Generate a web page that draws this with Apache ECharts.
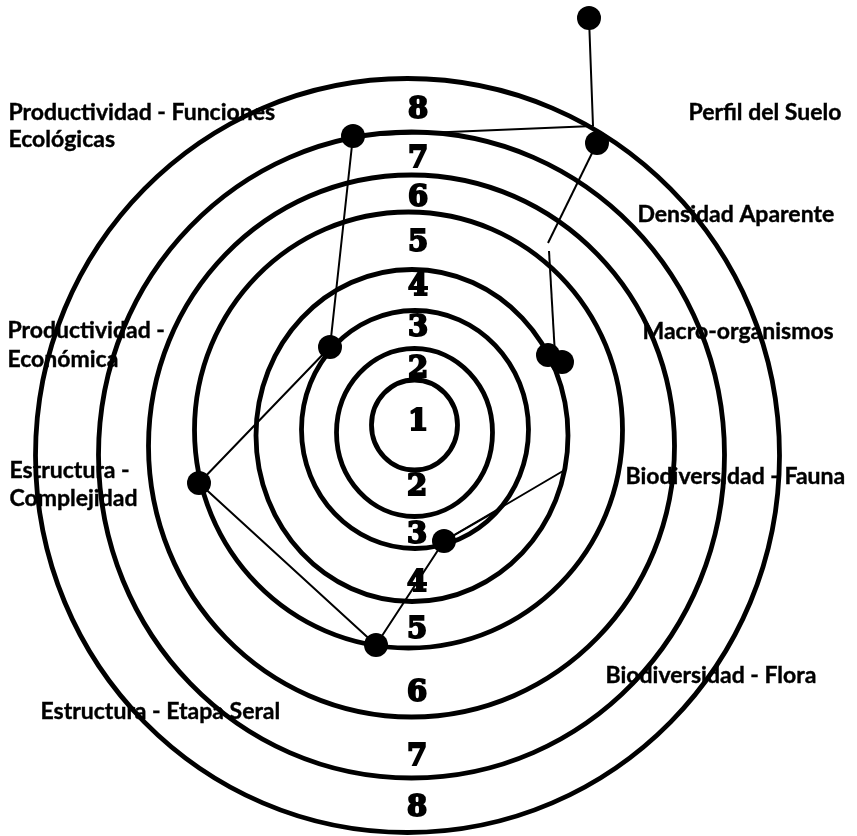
<!DOCTYPE html>
<html>
<head>
<meta charset="utf-8">
<script src="https://cdn.jsdelivr.net/npm/echarts@6/dist/echarts.min.js"></script>
<style>
html,body{margin:0;padding:0;background:#fff;}
#chart{width:857px;height:836px;}
</style>
</head>
<body>
<div id="chart"></div>
<script>
// ---- data (chart units = pixels of the drawing) ----
const ringLevels   = [1, 2, 3, 4, 5, 6, 7, 8];
const ringCenterX  = [414.5, 414.5, 415, 412, 408.5, 411.5, 411.5, 407.5];
const ringCenterY  = [425, 432.5, 429.5, 435.5, 430, 446, 455, 455.5];
const ringRadiusX  = [43, 78, 113.5, 156, 214, 263, 313, 372];
const ringRadiusY  = [45, 84, 119, 166, 218, 271, 323, 377];

const tickLabelsUp   = ['8', '7', '6', '5', '4', '3', '2', '1'];
const tickLabelsDown = ['2', '3', '4', '5', '6', '7', '8'];

const categoryNames = [
  'Productividad - Funciones\nEcológicas',
  'Perfil del Suelo',
  'Densidad Aparente',
  'Productividad -\nEconómica',
  'Macro-organismos',
  'Estructura -\nComplejidad',
  'Biodiversidad - Fauna',
  'Biodiversidad - Flora',
  'Estructura - Etapa Seral'
];

const pointX = [589, 597, 353, 330, 199, 376, 444, 548, 562];
const pointY = [18, 143, 136, 347, 483, 645, 541, 355, 362];

const mainPathX  = [589, 593, 353, 330, 199, 376, 444, 563];
const mainPathY  = [18, 126, 136, 347, 483, 645, 541, 471];
const spurPathX  = [444, 500];
const spurPathY  = [541, 509];
const soilPathX  = [597, 548];
const soilPathY  = [143, 243];
const macroPathX = [549, 555];
const macroPathY = [251, 355];

// ---- layout (where the texts sit) ----
const LAYOUT = {
  tickX: 418,
  tickUpY: [110, 159, 198, 243, 287, 328, 369, 422],
  tickDownY: [487, 535, 583, 630, 693, 757, 808],
  catX: [8, 688, 637, 7, 642, 9, 625, 605, 40],
  catY: [126, 113, 215, 345, 332, 485, 477, 676, 712],
  catLineHeight: [27, 22, 22, 29, 22, 28, 22, 22, 22]
};

const zip = (xs, ys) => xs.map((x, i) => [x, ys[i]]);

const ringData = ringLevels.map((lv, i) => [ringCenterX[i], ringCenterY[i], ringRadiusX[i], ringRadiusY[i], lv]);

const tickData = tickLabelsUp.map((t, i) => ({ value: [LAYOUT.tickX, LAYOUT.tickUpY[i]], name: t }))
  .concat(tickLabelsDown.map((t, i) => ({ value: [LAYOUT.tickX - 1, LAYOUT.tickDownY[i]], name: t })));

const catData = categoryNames.map((n, i) => ({
  value: [LAYOUT.catX[i], LAYOUT.catY[i]],
  name: n,
  label: { lineHeight: LAYOUT.catLineHeight[i] }
}));

function pathSeries(xs, ys) {
  return {
    type: 'line',
    data: zip(xs, ys),
    symbol: 'none',
    silent: true,
    z: 3,
    lineStyle: { color: '#000', width: 2, opacity: 1 }
  };
}

const chart = echarts.init(document.getElementById('chart'), null, { renderer: 'canvas' });
chart.setOption({
  animation: false,
  backgroundColor: '#fff',
  grid: { left: 0, right: 0, top: 0, bottom: 0 },
  xAxis: { type: 'value', min: 0, max: 857, show: false },
  yAxis: { type: 'value', min: 0, max: 836, inverse: true, show: false },
  series: [
    {
      type: 'custom',
      data: ringData,
      encode: { x: 0, y: 1 },
      clip: false,
      silent: true,
      z: 2,
      renderItem: function (params, api) {
        const c = api.coord([api.value(0), api.value(1)]);
        const s = api.size([api.value(2), api.value(3)]);
        return {
          type: 'ellipse',
          shape: { cx: c[0], cy: c[1], rx: Math.abs(s[0]), ry: Math.abs(s[1]) },
          style: { fill: 'none', stroke: '#000', lineWidth: 4.8 }
        };
      }
    },
    pathSeries(mainPathX, mainPathY),
    pathSeries(spurPathX, spurPathY),
    pathSeries(soilPathX, soilPathY),
    pathSeries(macroPathX, macroPathY),
    {
      type: 'scatter',
      data: zip(pointX, pointY),
      symbol: 'circle',
      symbolSize: 24,
      silent: true,
      z: 4,
      itemStyle: { color: '#000', opacity: 1 }
    },
    {
      type: 'scatter',
      data: tickData,
      symbolSize: 1,
      silent: true,
      z: 5,
      itemStyle: { color: 'transparent', opacity: 1 },
      label: {
        show: true,
        position: 'inside',
        formatter: '{b}',
        color: '#000',
        fontFamily: 'DejaVu Serif',
        fontWeight: 'bold',
        fontSize: 29,
        textBorderColor: '#000',
        textBorderWidth: 2
      }
    },
    {
      type: 'scatter',
      data: catData,
      symbolSize: 1,
      silent: true,
      z: 5,
      itemStyle: { color: 'transparent', opacity: 1 },
      label: {
        show: true,
        position: 'right',
        distance: 0,
        align: 'left',
        verticalAlign: 'middle',
        formatter: '{b}',
        color: '#000',
        fontFamily: 'Lato',
        fontWeight: 'bold',
        fontSize: 23,
        textBorderColor: '#000',
        textBorderWidth: 0.4
      }
    }
  ]
});
</script>
</body>
</html>
